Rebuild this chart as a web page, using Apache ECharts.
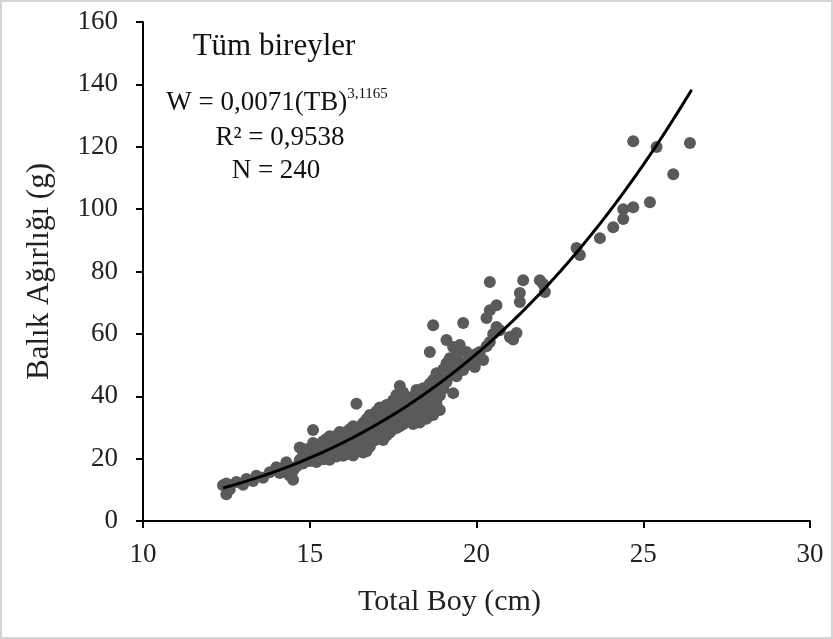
<!DOCTYPE html>
<html>
<head>
<meta charset="utf-8">
<script src="https://cdn.jsdelivr.net/npm/echarts@6/dist/echarts.min.js"></script>
<style>
html,body{margin:0;padding:0;background:#fff;}
#c{width:833px;height:639px;}
</style>
</head>
<body>
<div id="c"></div>
<script>
// ---- data ----
const xTicks = [10, 15, 20, 25, 30];
const yTicks = [0, 20, 40, 60, 80, 100, 120, 140, 160];
const titleText = 'Tüm bireyler';
const eqMain = 'W = 0,0071(TB)';
const eqExp = '3,1165';
const r2Text = 'R² = 0,9538';
const nText = 'N = 240';
const xName = 'Total Boy (cm)';
const yName = 'Balık Ağırlığı (g)';

const lengths12 = [12.4,12.5,12.5,12.6,12.8,13.0,13.1,13.3,13.4,13.6,13.8,14.0];
const weights12 = [11.5,8.6,12.0,10.2,12.5,11.6,13.5,12.8,14.5,13.9,15.6,17.2];

const lengths14 = [14.1,14.2,14.3,14.4,14.5,14.5,14.6,14.7,14.7,14.8,14.8,14.9,14.9,15.0];
const weights14 = [15.4,16.8,18.8,14.6,13.2,16.2,17.5,19.6,23.6,21.2,18.4,20.5,23.0,19.2];

const lengths15 = [15.0,15.1,15.1,15.1,15.2,15.2,15.2,15.3,15.3,15.3,15.4,15.4,15.4,15.5,15.5,15.5,15.5,15.6,15.6,15.6,15.7,15.7,15.7,15.8,15.8,15.8,15.8,15.9,15.9,15.9,16.0,16.0,16.0,16.0,15.9,15.6];
const weights15 = [22.4,25.0,29.2,20.6,23.8,21.5,18.9,24.6,20.2,22.8,25.6,19.8,23.1,21.4,24.2,26.3,20.0,22.6,25.1,19.6,23.7,21.3,26.8,24.4,22.0,20.7,27.4,23.2,25.6,21.6,24.8,22.3,27.9,20.9,28.5,27.2];

const lengths16 = [16.1,16.1,16.1,16.1,16.2,16.2,16.2,16.2,16.3,16.3,16.3,16.3,16.4,16.4,16.4,16.4,16.4,16.5,16.5,16.5,16.5,16.6,16.6,16.6,16.6,16.6,16.7,16.7,16.7,16.7,16.7,16.8,16.8,16.8,16.8,16.8,16.9,16.9,16.9,16.9,16.9,17.0,17.0,17.0,17.0,17.0,16.3];
const weights16 = [25.7,23.5,21.4,28.6,24.6,26.8,22.4,29.4,25.2,23.1,27.6,21.0,37.6,26.2,24.0,29.0,22.2,27.3,25.0,30.2,23.4,28.1,26.0,31.4,24.2,22.0,29.0,22.4,27.0,32.6,25.3,30.0,26.4,34.0,28.2,23.8,31.2,27.5,29.6,33.4,25.6,30.4,28.0,35.2,26.2,32.4,30.4];

const lengths17 = [17.1,17.1,17.1,17.1,17.1,17.2,17.2,17.2,17.2,17.2,17.3,17.3,17.3,17.3,17.3,17.4,17.4,17.4,17.4,17.4,17.5,17.5,17.5,17.5,17.5,17.6,17.6,17.6,17.6,17.6,17.7,17.7,17.7,17.7,17.7,17.8,17.8,17.8,17.8,17.8,17.9,17.9,17.9,18.0,18.0,18.0,18.0];
const weights17 = [34.9,29.2,31.6,27.0,36.4,32.8,30.0,28.0,35.6,26.0,33.6,31.0,29.0,37.2,27.4,34.4,32.0,30.2,36.0,28.4,35.2,33.0,31.4,38.6,29.4,40.4,35.6,33.8,31.8,29.8,43.3,37.0,34.6,32.6,30.4,41.2,38.2,35.4,33.2,31.0,39.4,36.4,34.0,38.8,36.8,34.8,32.6];

const lengths18 = [18.1,18.1,18.1,18.2,18.2,18.2,18.3,18.3,18.3,18.4,18.4,18.4,18.5,18.5,18.5,18.6,18.6,18.6,18.6,18.7,18.7,18.7,18.7,18.8,18.8,18.8,18.9,18.9,18.9,19.0,19.0,18.5];
const weights18 = [31.1,37.6,40.0,35.4,33.0,42.0,38.4,36.2,31.6,42.6,39.6,34.4,37.2,41.2,35.6,54.2,44.0,39.0,36.4,62.8,45.2,41.6,34.0,47.4,37.8,43.2,40.2,46.2,35.6,42.4,48.6,32.8];

const lengths19 = [19.1,19.1,19.1,19.2,19.2,19.3,19.3,19.3,19.4,19.4,19.5,19.6,19.6,19.7,19.7,19.8,19.9,19.95,20.0,19.5];
const weights19 = [58.0,50.6,44.6,47.0,52.2,55.8,41.0,49.0,53.2,46.4,51.0,63.5,48.4,54.2,50.0,52.4,50.6,49.4,53.6,56.4];

const lengths20 = [20.1,20.2,20.3,20.3,20.4,20.4,20.4,20.5,20.6,20.6,20.7,21.0];
const weights20 = [54.2,51.6,65.1,56.0,76.6,67.6,57.4,60.0,69.2,62.2,61.2,59.0];

const lengths21 = [21.2,21.3,21.3,21.4,21.9,22.0,22.05,21.1];
const weights21 = [60.3,70.2,73.1,77.2,77.2,76.0,73.4,58.2];

const lengthsBig = [23.0,23.1,23.7,24.1,24.4,24.4,24.7,24.7,25.2,25.4,25.9,26.4];
const weightsBig = [87.5,85.3,90.7,94.2,96.8,100.0,100.6,121.8,102.2,119.9,111.2,121.2];

// power trendline as drawn in the picture (fitted to the plotted curve)
const trendA = 0.002083;
const trendB = 3.39;
const trendStart = 12.4;
const trendEnd = 26.45;

// ---- build ----
const allL = [].concat(lengths12,lengths14,lengths15,lengths16,lengths17,lengths18,lengths19,lengths20,lengths21,lengthsBig);
const allW = [].concat(weights12,weights14,weights15,weights16,weights17,weights18,weights19,weights20,weights21,weightsBig);
const pts = allL.map((x,i)=>[x, allW[i]]);
const curve = [];
for (let i = 0; i <= 200; i++) {
  const x = trendStart + (trendEnd - trendStart) * i / 200;
  curve.push([x, trendA * Math.pow(x, trendB)]);
}

const FONT = '"Liberation Serif","Times New Roman",serif';
const chart = echarts.init(document.getElementById('c'), null, {renderer:'canvas'});
chart.setOption({
  backgroundColor: '#ffffff',
  animation: false,
  grid: {left: 143, right: 23, top: 22, bottom: 118, containLabel: false},
  xAxis: {
    type: 'value', min: xTicks[0], max: xTicks[xTicks.length-1], interval: 5,
    name: xName, nameLocation: 'middle', nameGap: 66,
    nameTextStyle: {fontFamily: FONT, fontSize: 30, color: '#222', padding: [0, 54, 0, 0]},
    axisLine: {show: true, onZero: false, lineStyle: {color: '#000', width: 2}},
    axisTick: {show: true, inside: false, length: 7, lineStyle: {color: '#000', width: 2}},
    axisLabel: {fontFamily: FONT, fontSize: 27, color: '#222', margin: 20},
    splitLine: {show: false}
  },
  yAxis: {
    type: 'value', min: yTicks[0], max: yTicks[yTicks.length-1], interval: 20,
    name: yName, nameLocation: 'middle', nameGap: 88, nameRotate: 90,
    nameTextStyle: {fontFamily: FONT, fontSize: 31, color: '#222'},
    axisLine: {show: true, onZero: false, lineStyle: {color: '#000', width: 2}},
    axisTick: {show: true, inside: false, length: 7, lineStyle: {color: '#000', width: 2}},
    axisLabel: {fontFamily: FONT, fontSize: 27, color: '#222', margin: 25},
    splitLine: {show: false}
  },
  series: [
    {
      type: 'scatter', data: pts, symbol: 'circle', symbolSize: 12,
      itemStyle: {color: '#5a5a5a', opacity: 1}, z: 2
    },
    {
      type: 'line', data: curve, showSymbol: false, smooth: false,
      lineStyle: {color: '#000', width: 3}, z: 3
    }
  ],
  graphic: [
    {type: 'rect', shape: {x: 1, y: 1, width: 831, height: 637}, style: {fill: 'none', stroke: '#d4d4d4', lineWidth: 2}, silent: true},
    {type: 'text', x: 274, y: 47, style: {text: titleText, font: '31px ' + FONT, fill: '#111', textAlign: 'center', textVerticalAlign: 'middle'}},
    {type: 'text', x: 277, y: 103, style: {
      text: '{m|' + eqMain + '}{s|' + eqExp + '}',
      textAlign: 'center', textVerticalAlign: 'middle',
      rich: {
        m: {fontFamily: FONT, fontSize: 27, fill: '#111', color: '#111', lineHeight: 32},
        s: {fontFamily: FONT, fontSize: 15, fill: '#111', color: '#111', lineHeight: 32, verticalAlign: 'top', padding: [0,0,14,0]}
      }
    }},
    {type: 'text', x: 280, y: 138, style: {text: r2Text, font: '27px ' + FONT, fill: '#111', textAlign: 'center', textVerticalAlign: 'middle'}},
    {type: 'text', x: 276, y: 171, style: {text: nText, font: '27px ' + FONT, fill: '#111', textAlign: 'center', textVerticalAlign: 'middle'}}
  ]
});
</script>
</body>
</html>
